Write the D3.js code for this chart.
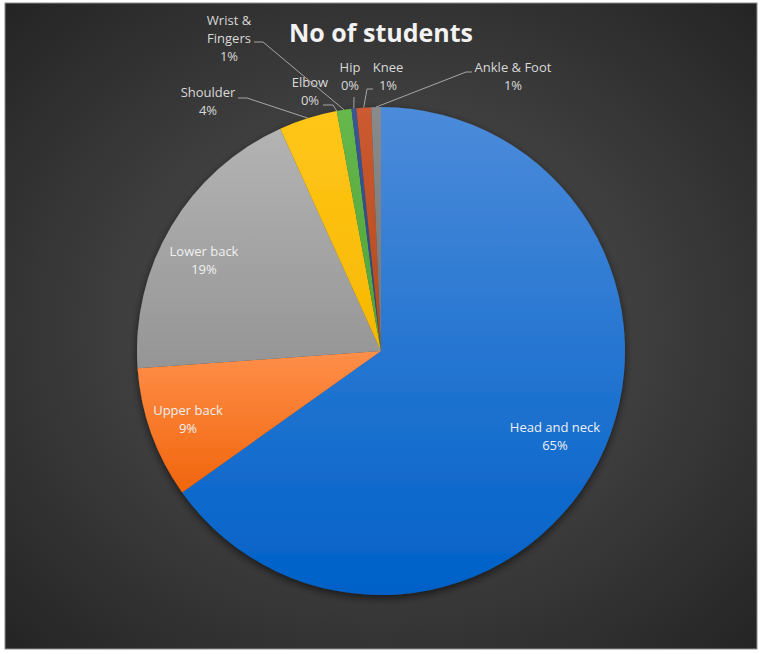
<!DOCTYPE html>
<html>
<head>
<meta charset="utf-8">
<script src="https://cdn.jsdelivr.net/npm/d3@7"></script>
<style>
  body { margin: 0; background: #fff; }
  text { font-family: "Open Sans", sans-serif; }
</style>
</head>
<body>
<div id="chart"></div>
<script>
/* Pie chart: No of students by pain location. */

const categories = ["Head and neck", "Upper back", "Lower back", "Shoulder", "Elbow",
                    "Wrist & Fingers", "Hip", "Knee", "Ankle & Foot"];
const values = [202, 27, 60, 12, 0, 3, 1, 3, 2];
const labelLines = [["Head and neck"], ["Upper back"], ["Lower back"], ["Shoulder"], ["Elbow"],
                    ["Wrist &", "Fingers"], ["Hip"], ["Knee"], ["Ankle & Foot"]];

// top / bottom colours of each slice's gradient
const colors = [["#4c8bda", "#0061c8"], ["#ff8f4a", "#f0650c"], ["#b3b3b3", "#959595"],
                ["#ffc61a", "#f7b800"], ["#5b9bd5", "#4a8ac4"], ["#66b84a", "#4ea23a"],
                ["#3a5796", "#2a4580"], ["#cc5a30", "#b44a1e"], ["#8a8a8a", "#767676"]];

const width = 762, height = 654,
    cx = 381, cy = 351, r = 244;

// label placement: centre x, baseline of first line, and the start of the leader line
const labelPos = [
  { x: 555, y: 432, inside: true },
  { x: 188, y: 415, inside: true },
  { x: 204, y: 256, inside: true },
  { x: 208, y: 97, lead: [238, 98, 247, 98] },
  { x: 310, y: 87, lead: [323, 105, 333, 105] },
  { x: 229, y: 25, lead: [254, 42, 263, 42] },
  { x: 350, y: 72, lead: [354, 97, 354, 97] },
  { x: 388, y: 72, lead: [373, 89, 367, 89] },
  { x: 513, y: 72, lead: [472, 72, 466, 72] }
];

const svg = d3.select("#chart")
  .append("svg")
  .attr("width", width)
  .attr("height", height);

const defs = svg.append("defs");

const bg = defs.append("radialGradient")
  .attr("id", "bg")
  .attr("cx", "50%").attr("cy", "50%").attr("r", "72%");
bg.append("stop").attr("offset", "0%").attr("stop-color", "#575757");
bg.append("stop").attr("offset", "100%").attr("stop-color", "#232323");

colors.forEach((c, i) => {
  let g = defs.append("linearGradient")
    .attr("id", "g" + i)
    .attr("x1", 0).attr("y1", 0).attr("x2", 0).attr("y2", 1);
  g.append("stop").attr("offset", "0%").attr("stop-color", c[0]);
  g.append("stop").attr("offset", "100%").attr("stop-color", c[1]);
});

defs.append("filter")
  .attr("id", "shadow")
  .attr("x", "-10%").attr("y", "-10%").attr("width", "120%").attr("height", "125%")
  .append("feDropShadow")
  .attr("dx", 0).attr("dy", 3).attr("stdDeviation", 4)
  .attr("flood-color", "#000").attr("flood-opacity", 0.6);

svg.append("rect")
  .attr("x", 5).attr("y", 3)
  .attr("width", 752).attr("height", 646)
  .attr("fill", "url(#bg)")
  .attr("stroke", "#8c8c8c")
  .attr("stroke-width", 1);

svg.append("text")
  .attr("x", cx)
  .attr("y", 42)
  .attr("text-anchor", "middle")
  .attr("font-size", 25)
  .attr("font-weight", "bold")
  .attr("fill", "#f2f2f2")
  .text("No of students");

const data = categories.map((c, i) => ({ name: c, value: values[i], i: i }));

const pie = d3.pie()
  .value(d => d.value)
  .sort(null);

const arcs = pie(data);

const arc = d3.arc()
  .innerRadius(0)
  .outerRadius(r);

const g = svg.append("g")
  .attr("transform", `translate(${cx},${cy})`);

g.append("g")
  .attr("filter", "url(#shadow)")
  .selectAll("path")
  .data(arcs)
  .join("path")
  .attr("d", arc)
  .attr("fill", d => `url(#g${d.data.i})`);

const total = d3.sum(values);

// leader lines from the outside labels to the middle of each slice edge
arcs.forEach((a, i) => {
  let p = labelPos[i];
  if (p.inside) return;
  let mid = (a.startAngle + a.endAngle) / 2;
  let ex = cx + r * Math.sin(mid), ey = cy - r * Math.cos(mid);
  let pts = [[p.lead[0], p.lead[1]], [p.lead[2], p.lead[3]], [ex, ey]];
  svg.append("path")
    .attr("d", d3.line()(pts))
    .attr("fill", "none")
    .attr("stroke", "#a6a6a6")
    .attr("stroke-width", 1);
});

arcs.forEach((a, i) => {
  let p = labelPos[i];
  let lines = labelLines[i].concat([d3.format(".0%")(a.data.value / total)]);
  let t = svg.append("text")
    .attr("text-anchor", "middle")
    .attr("font-size", 13)
    .attr("fill", p.inside ? "#f0f0f0" : "#d9d9d9");
  lines.forEach((l, k) => {
    t.append("tspan")
      .attr("x", p.x)
      .attr("y", p.y + k * 18)
      .text(l);
  });
});
</script>
</body>
</html>
